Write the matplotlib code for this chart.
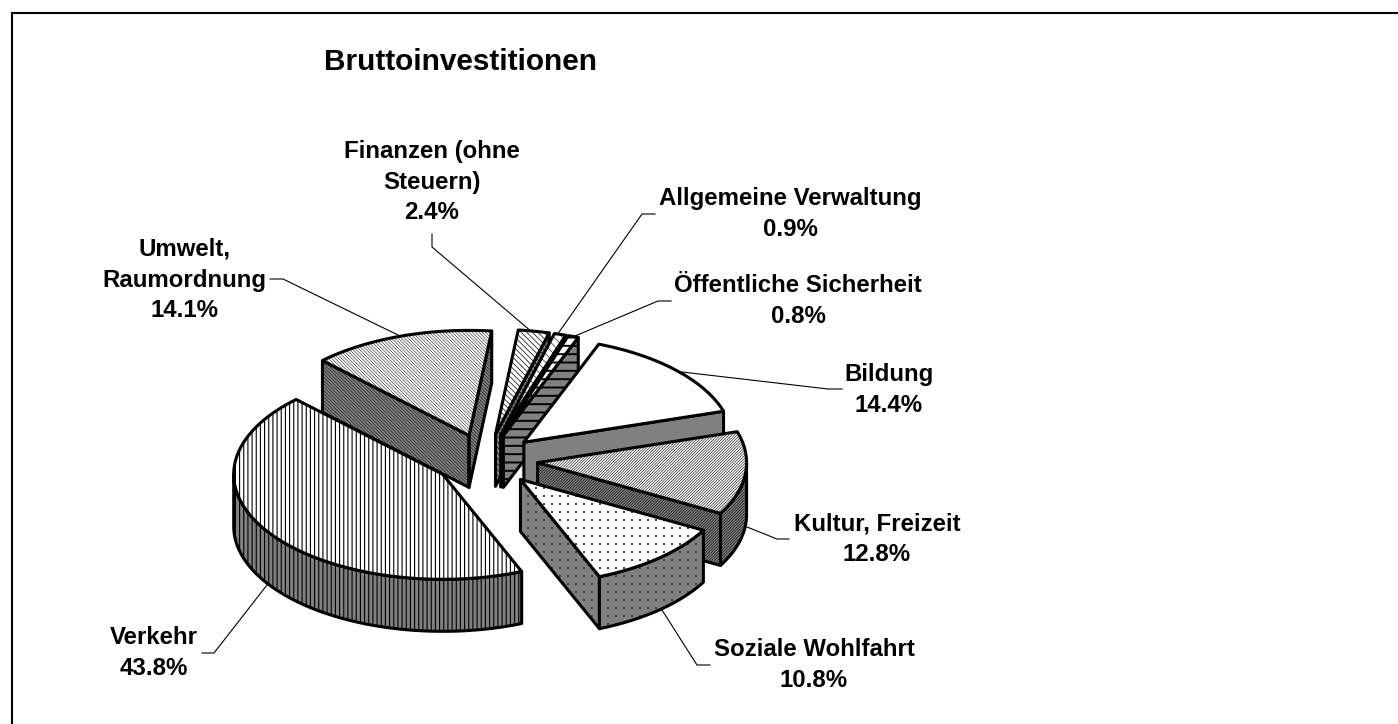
import numpy as np
import matplotlib
matplotlib.use('Agg')
import matplotlib.pyplot as plt
from matplotlib.patches import Polygon

plt.rcParams['font.family'] = ['Liberation Sans', 'DejaVu Sans']

TITLE = 'Bruttoinvestitionen'
# clockwise from Bildung, same order as the chart's data sheet
NAMES = ['Bildung', 'Kultur, Freizeit', 'Soziale Wohlfahrt', 'Verkehr',
         'Umwelt,\nRaumordnung', 'Finanzen (ohne\nSteuern)',
         'Allgemeine Verwaltung', 'Öffentliche Sicherheit']
SHARES = [14.4, 12.8, 10.8, 43.8, 14.1, 2.4, 0.9, 0.8]

W, H = 1398, 724
START_ANGLE = 291.0
CX, CY = 486, 460
RX, RY = 209, 105
DEPTH = 52
EXPLODE = 0.248
GREY = '#808080'
EDGE_LW = 2.2

# hatch per slice (same order as NAMES), 'dots' is done with a clipped scatter
HATCHES = [None, '/' * 12, 'dots', '|' * 4, '\\' * 10, '\\' * 6, '\\' * 4, '--']
HATCH_LW = [0.7, 0.4, 0.7, 0.8, 0.35, 0.5, 0.4, 1.4]
# painter's order, back slices first
DRAW_ORDER = [4, 5, 6, 7, 0, 1, 2, 3]

# label centre (x, y) and leader line in pixels
LABEL_POS = [(889, 390), (877, 539), (814, 665), (154, 653),
             (184, 280), (432, 182), (790, 214), (798, 301)]
LEADERS = [
    [(842, 389), (828, 389), (682, 372)],
    [(789, 539), (777, 539), (747, 527)],
    [(710, 665), (697, 665), (662, 610)],
    [(202, 653), (214, 653), (267, 585)],
    [(270, 279), (283, 279), (398, 335)],
    [(432, 234), (432, 247), (532, 332)],
    [(655, 214), (642, 214), (557, 335)],
    [(671, 301), (658, 301), (575, 336)],
]


def ell(cx, cy, deg):
    t = np.radians(deg)
    return np.column_stack([cx + RX * np.cos(t), cy + RY * np.sin(t)])


def face(ax, pts, fill, hatch, hlw, z):
    # hatch colour follows edgecolor, so the outline goes in a second patch
    if hatch == 'dots':
        base = Polygon(pts, closed=True, facecolor=fill, edgecolor='none', zorder=z)
        ax.add_patch(base)
        gx, gy = np.meshgrid(np.arange(480, 760, 8), np.arange(440, 660, 8))
        dots = ax.scatter(gx.ravel(), gy.ravel(), s=0.8, marker='s', color='#404040',
                          linewidths=0, zorder=z + 0.05)
        dots.set_clip_path(base)
    elif hatch:
        p = Polygon(pts, closed=True, facecolor=fill, edgecolor='black',
                    hatch=hatch, linewidth=0, zorder=z)
        p.set_hatch_linewidth(hlw)
        ax.add_patch(p)
    else:
        ax.add_patch(Polygon(pts, closed=True, facecolor=fill, edgecolor='none', zorder=z))
    ax.add_patch(Polygon(pts, closed=True, fill=False, edgecolor='black',
                         linewidth=EDGE_LW, joinstyle='round', zorder=z + 0.1))


def extrude(top):
    low = top[::-1] + np.array([0, DEPTH])
    return np.vstack([top, low])


def draw_slice(ax, a0, a1, hatch, hlw, z):
    mid = np.radians((a0 + a1) / 2)
    cx = CX + EXPLODE * RX * np.cos(mid)
    cy = CY + EXPLODE * RY * np.sin(mid)
    apex = np.array([[cx, cy]])
    arc = ell(cx, cy, np.linspace(a0, a1, 80))

    # radial walls: only those turned toward the viewer
    if np.sin(np.radians(a0 - 90)) > 0:
        face(ax, extrude(np.vstack([apex, arc[:1]])), GREY, hatch, hlw, z)
    if np.sin(np.radians(a1 + 90)) > 0:
        face(ax, extrude(np.vstack([apex, arc[-1:]])), GREY, hatch, hlw, z)

    # rim, front half only
    rim = np.linspace(a0, a1, 160)
    rim = rim[np.sin(np.radians(rim)) >= 0]
    if len(rim) > 1:
        face(ax, extrude(ell(cx, cy, rim)), GREY, hatch, hlw, z + 0.2)

    face(ax, np.vstack([apex, arc]), 'white', hatch, hlw, z + 0.4)


fig = plt.figure(figsize=(W / 100, H / 100), dpi=100, facecolor='white')
ax = fig.add_axes([0, 0, 1, 1])
ax.set_xlim(0, W)
ax.set_ylim(H, 0)
ax.axis('off')

# only the top and left of the chart frame are inside the picture
ax.plot([12, 12, W], [H, 13, 13], color='black', linewidth=1.5,
        solid_joinstyle='miter', solid_capstyle='butt', zorder=1)

edges = START_ANGLE + np.cumsum([0] + SHARES) * 3.6
for i in DRAW_ORDER:
    draw_slice(ax, edges[i], edges[i + 1], HATCHES[i], HATCH_LW[i], 2 + DRAW_ORDER.index(i))

for line in LEADERS:
    xs, ys = zip(*line)
    ax.plot(xs, ys, color='black', linewidth=0.8, zorder=1.5)

for name, share, (x, y) in zip(NAMES, SHARES, LABEL_POS):
    ax.text(x, y, f'{name}\n{share:.1f}%', ha='center', va='center', multialignment='center',
            fontsize=17.3, fontweight='bold', linespacing=1.43, color='black')

ax.text(461, 62, TITLE, ha='center', va='center', fontsize=21.4, fontweight='bold', color='black')

fig.savefig('out.png', dpi=100, facecolor='white')
plt.close(fig)
